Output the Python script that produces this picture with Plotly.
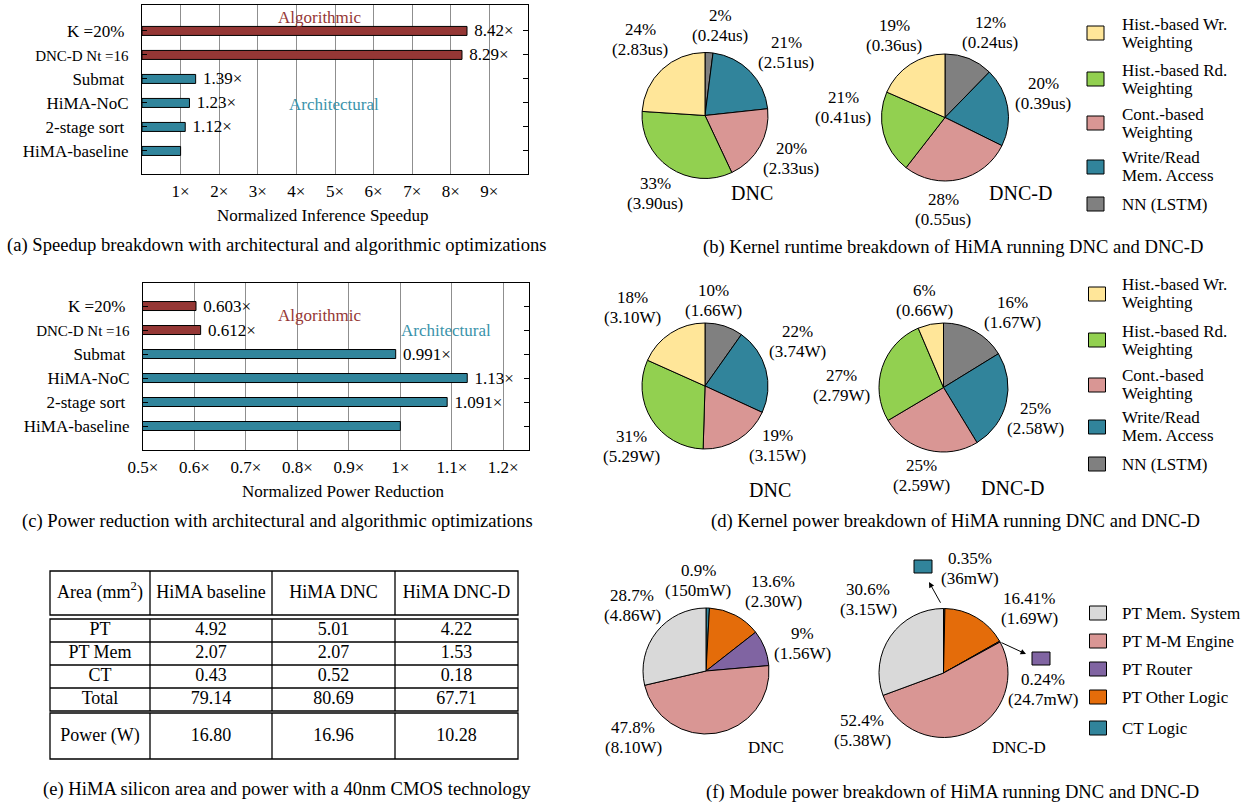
import plotly.graph_objects as go

W, H = 1247, 805
FONT = "Liberation Serif"

# ---------------------------------------------------------------- data
# (a)/(c) optimisation steps, bottom to top
opt_names = ["HiMA-baseline", "2-stage sort", "HiMA-NoC", "Submat", "DNC-D Nt =16", "K =20%"]
opt_kind = ["arch", "arch", "arch", "arch", "alg", "alg"]
speedup = [1.0, 1.12, 1.23, 1.39, 8.29, 8.42]
power_reduction = [1.0, 1.091, 1.13, 0.991, 0.612, 0.603]
speedup_ticks = [1, 2, 3, 4, 5, 6, 7, 8, 9]
power_ticks = [0.5, 0.6, 0.7, 0.8, 0.9, 1.0, 1.1, 1.2]

# (b)/(d) kernel breakdown
kernel_legend = [["Hist.-based Wr.", "Weighting"], ["Hist.-based Rd.", "Weighting"],
                 ["Cont.-based", "Weighting"], ["Write/Read", "Mem. Access"], ["NN (LSTM)"]]
runtime_dnc_us = [2.83, 3.90, 2.33, 2.51, 0.24]
runtime_dnc_pct = ["24%", "33%", "20%", "21%", "2%"]
runtime_dncd_us = [0.36, 0.41, 0.55, 0.39, 0.24]
runtime_dncd_pct = ["19%", "21%", "28%", "20%", "12%"]
kpower_dnc_w = [3.10, 5.29, 3.15, 3.74, 1.66]
kpower_dnc_pct = ["18%", "31%", "19%", "22%", "10%"]
kpower_dncd_w = [0.66, 2.79, 2.59, 2.58, 1.67]
kpower_dncd_pct = ["6%", "27%", "25%", "25%", "16%"]

# (f) module breakdown
module_legend = ["PT Mem. System", "PT M-M Engine", "PT Router", "PT Other Logic", "CT Logic"]
mpower_dnc_w = [4.86, 8.10, 1.56, 2.30, 0.150]
mpower_dnc_pct = ["28.7%", "47.8%", "9%", "13.6%", "0.9%"]
mpower_dncd_w = [3.15, 5.38, 0.0247, 1.69, 0.036]
mpower_dncd_pct = ["30.6%", "52.4%", "0.24%", "16.41%", "0.35%"]

# (e) area / power table
table_header = ["Area (mm<sup>2</sup>)", "HiMA baseline", "HiMA DNC", "HiMA DNC-D"]
area_rows = ["PT", "PT Mem", "CT", "Total"]
area_baseline = [4.92, 2.07, 0.43, 79.14]
area_dnc = [5.01, 2.07, 0.52, 80.69]
area_dncd = [4.22, 1.53, 0.18, 67.71]
power_row = "Power (W)"
power_w = [16.80, 16.96, 10.28]

# ---------------------------------------------------------------- styles
BAR_COLORS = {"arch": "#31859C", "alg": "#953735"}
KERNEL_COLORS = ["#FFE699", "#92D050", "#D99694", "#31849B", "#808080"]
MODULE_COLORS = ["#D9D9D9", "#D99694", "#8064A2", "#E46C0A", "#31849B"]
GRID = "#8f8f8f"
SMALL_TICK = {"DNC-D Nt =16"}
PAD_TICK = {"K =20%", "Submat", "2-stage sort"}
CAPTION_SIZE = 18.6
TABLE_SIZE = 18


def tick_label(name):
    if name in SMALL_TICK:
        return f"<span style='font-size:15px'>{name}</span>"
    if name in PAD_TICK:
        return name + "\u00a0"
    return name


def bar_text(values):
    return [" " if v == 1.0 else f"\u00a0{v}\u00d7" for v in values]


def xdom(x0, x1):
    return [x0 / W, x1 / W]


def ydom(y_top, y_bot):
    return [1 - y_bot / H, 1 - y_top / H]


fig = go.Figure()
annotations = []
shapes = []


def text(x, y, s, size=17, color="black", anchor="center"):
    annotations.append(dict(x=x, y=y, xref="x5", yref="y5", text=s, showarrow=False,
                            font=dict(family=FONT, size=size, color=color),
                            xanchor=anchor, yanchor="middle"))


def lines(x, y, rows, spacing, size=17, anchor="center"):
    for i, r in enumerate(rows):
        text(x, y + i * spacing, r, size=size, anchor=anchor)


# ---------------------------------------------------------------- (a) and (c) bars
for vals, xa, ya in [(speedup, "x", "y"), (power_reduction, "x2", "y2")]:
    fig.add_trace(go.Bar(
        x=vals, y=list(range(len(vals))), orientation="h", width=0.375,
        marker=dict(color=[BAR_COLORS[k] for k in opt_kind], line=dict(color="black", width=1)),
        text=bar_text(vals), textposition="outside", constraintext="none", cliponaxis=False,
        textfont=dict(family=FONT, size=17, color="black"),
        xaxis=xa, yaxis=ya, showlegend=False, hoverinfo="skip"))

axis_common = dict(showline=True, linecolor="black", linewidth=1, zeroline=False,
                   automargin=False, tickfont=dict(family=FONT, size=17, color="black"))
fig.update_layout(
    xaxis=dict(domain=xdom(142, 528), range=[0, 10], tickvals=speedup_ticks,
               ticktext=[f"{t}\u00d7" for t in speedup_ticks], showgrid=True,
               gridcolor=GRID, gridwidth=1, mirror=True, ticks="", anchor="y",
               ticklabelstandoff=2, **axis_common),
    yaxis=dict(domain=ydom(5, 174), range=[-0.96, 6.08], tickvals=list(range(6)),
               ticktext=[tick_label(n) for n in opt_names], showgrid=False, mirror="ticks",
               ticks="inside", ticklen=5, tickcolor="black", anchor="x",
               ticklabelstandoff=9, **axis_common),
    xaxis2=dict(domain=xdom(143, 529), range=[0.5, 1.25], tickvals=power_ticks,
                ticktext=[f"{t:g}\u00d7" for t in power_ticks], showgrid=True,
                gridcolor=GRID, gridwidth=1, mirror=True, ticks="", anchor="y2",
                ticklabelstandoff=2, **axis_common),
    yaxis2=dict(domain=ydom(283, 450), range=[-1.0, 5.96], tickvals=list(range(6)),
                ticktext=[tick_label(n) for n in opt_names], showgrid=False, mirror="ticks",
                ticks="inside", ticklen=5, tickcolor="black", anchor="x2",
                ticklabelstandoff=9, **axis_common),
    xaxis5=dict(domain=[0, 1], range=[0, W], visible=False, fixedrange=True, anchor="y5",
                automargin=False),
    yaxis5=dict(domain=[0, 1], range=[H, 0], visible=False, fixedrange=True, anchor="x5",
                automargin=False),
)

text(320, 17, "Algorithmic", color="#953735")
text(334, 104, "Architectural", color="#3A93AB")
text(322, 215, "Normalized Inference Speedup")
text(277, 245, "(a) Speedup breakdown with architectural and algorithmic optimizations",
     size=CAPTION_SIZE)

text(320, 315, "Algorithmic", color="#953735")
text(446, 330, "Architectural", color="#3A93AB")
text(343, 491, "Normalized Power Reduction")
text(277, 521, "(c) Power reduction with architectural and algorithmic optimizations",
     size=CAPTION_SIZE)

# ---------------------------------------------------------------- pies
def fmt_us(v):
    return f"({v:.2f}us)"


def fmt_w(v):
    return f"({v * 1000:g}mW)" if v < 0.2 else f"({v:.2f}W)"


pies = [
    # values, pct, formatter, colours, centre, radius, label positions (first line)
    (runtime_dnc_us, runtime_dnc_pct, fmt_us, KERNEL_COLORS, (705, 115.5), 63,
     [(640, 29), (655, 183), (791, 148), (786, 42), (720, 15)]),
    (runtime_dncd_us, runtime_dncd_pct, fmt_us, KERNEL_COLORS, (945, 117.5), 63.5,
     [(894, 25), (843, 97), (943, 199), (1043, 83), (990, 22)]),
    (kpower_dnc_w, kpower_dnc_pct, fmt_w, KERNEL_COLORS, (705, 386), 63,
     [(632, 297), (631, 436), (777, 435), (797, 331), (713, 290)]),
    (kpower_dncd_w, kpower_dncd_pct, fmt_w, KERNEL_COLORS, (943.5, 387.5), 64.5,
     [(924, 290), (841, 375), (921, 465), (1035, 408), (1012, 302)]),
    (mpower_dnc_w, mpower_dnc_pct, fmt_w, MODULE_COLORS, (706, 671), 63,
     [(632, 595), (633, 727), (802, 633), (773, 581), (698, 570)]),
    (mpower_dncd_w, mpower_dncd_pct, fmt_w, MODULE_COLORS, (943.5, 673), 64.5,
     [(868, 589), (862, 720), (1043, 679), (1029, 598), (970, 558)]),
]

for vals, pcts, fmt, colors, (cx, cy), r, pos in pies:
    # slices are listed in legend order and laid out counter-clockwise from 12 o'clock,
    # i.e. clockwise in reverse order
    fig.add_trace(go.Pie(
        values=vals[::-1], sort=False, direction="clockwise", rotation=0,
        marker=dict(colors=colors[::-1], line=dict(color="black", width=1)),
        textinfo="none", hoverinfo="skip", showlegend=False,
        domain=dict(x=xdom(cx - r, cx + r), y=ydom(cy - r, cy + r))))
    for v, p, (lx, ly) in zip(vals, pcts, pos):
        lines(lx, ly, [p, fmt(v)], 20)

# pie titles
text(752, 193, "DNC", size=20)
text(1020, 193, "DNC-D", size=20)
text(770, 490, "DNC", size=20)
text(1012, 488, "DNC-D", size=20)
text(766, 747, "DNC")
text(1019, 747, "DNC-D")

# call-outs for the two thin DNC-D module slices
shapes.append(dict(type="rect", xref="x5", yref="y5", x0=914, x1=932, y0=560, y1=573,
                   fillcolor=MODULE_COLORS[4], line=dict(color="black", width=1)))
shapes.append(dict(type="rect", xref="x5", yref="y5", x0=1032, x1=1050, y0=652, y1=665,
                   fillcolor=MODULE_COLORS[2], line=dict(color="black", width=1)))
for tip, tail in [((929, 582), (944, 609)), ((1026, 654), (998, 641))]:
    annotations.append(dict(x=tip[0], y=tip[1], ax=tail[0], ay=tail[1], xref="x5", yref="y5",
                            axref="x5", ayref="y5", text=" ", showarrow=True, arrowhead=2,
                            arrowsize=1.1, arrowwidth=1, arrowcolor="black"))

# legends
def legend(entries, colors, sq_x, sq_ys, text_ys, spacing):
    for entry, col, sy, ty in zip(entries, colors, sq_ys, text_ys):
        shapes.append(dict(type="rect", xref="x5", yref="y5", x0=sq_x - 8.5, x1=sq_x + 8.5,
                           y0=sy - 7, y1=sy + 7, fillcolor=col,
                           line=dict(color="black", width=1)))
        rows = entry if isinstance(entry, list) else [entry]
        lines(1120, ty, rows, spacing, anchor="left")


legend(kernel_legend, KERNEL_COLORS, 1095.5, [33, 79, 123, 167, 204],
       [24, 70, 114, 157, 204], 18)
legend(kernel_legend, KERNEL_COLORS, 1097, [294, 340, 385, 427, 464],
       [284, 331, 375, 417, 464], 18)
legend(module_legend, MODULE_COLORS, 1098, [613, 641, 669, 697, 728],
       [613, 641, 669, 697, 728], 18)

text(953, 247, "(b) Kernel runtime breakdown of HiMA running DNC and DNC-D", size=CAPTION_SIZE)
text(955, 521, "(d) Kernel power breakdown of HiMA running DNC and DNC-D", size=CAPTION_SIZE)
text(952, 792, "(f) Module power breakdown of HiMA running DNC and DNC-D", size=CAPTION_SIZE)

# ---------------------------------------------------------------- (e) table
col_edges = [50, 150, 272, 395, 518]
col_mid = [(a + b) / 2 for a, b in zip(col_edges[:-1], col_edges[1:])]
header_box = (571, 615)
body_edges = [619, 642, 665, 688, 711]
power_box = (713, 759)

cell_x, cell_y, cell_t = [], [], []
for c, h in enumerate(table_header):
    cell_x.append(col_mid[c]); cell_y.append(sum(header_box) / 2); cell_t.append(h)
for i, name in enumerate(area_rows):
    ymid = (body_edges[i] + body_edges[i + 1]) / 2
    row = [name] + [f"{col[i]:.2f}" for col in (area_baseline, area_dnc, area_dncd)]
    for c, t in enumerate(row):
        cell_x.append(col_mid[c]); cell_y.append(ymid); cell_t.append(t)
for c, t in enumerate([power_row] + [f"{v:.2f}" for v in power_w]):
    cell_x.append(col_mid[c]); cell_y.append(sum(power_box) / 2); cell_t.append(t)

fig.add_trace(go.Scatter(x=cell_x, y=cell_y, text=cell_t, mode="text",
                         textposition="middle center",
                         textfont=dict(family=FONT, size=TABLE_SIZE, color="black"),
                         xaxis="x5", yaxis="y5", showlegend=False, hoverinfo="skip"))

tline = dict(color="black", width=1.3)
for top, bot in [header_box, (body_edges[0], body_edges[-1]), power_box]:
    shapes.append(dict(type="rect", xref="x5", yref="y5", x0=col_edges[0], x1=col_edges[-1],
                       y0=top, y1=bot, line=tline))
    for xe in col_edges[1:-1]:
        shapes.append(dict(type="line", xref="x5", yref="y5", x0=xe, x1=xe, y0=top, y1=bot,
                           line=tline))
for ye in body_edges[1:-1]:
    shapes.append(dict(type="line", xref="x5", yref="y5", x0=col_edges[0], x1=col_edges[-1],
                       y0=ye, y1=ye, line=tline))

text(287, 789, "(e) HiMA silicon area and power with a 40nm CMOS technology",
     size=CAPTION_SIZE)

fig.update_layout(
    width=W, height=H, autosize=False,
    margin=dict(l=0, r=0, t=0, b=0, pad=0, autoexpand=False),
    paper_bgcolor="white", plot_bgcolor="rgba(0,0,0,0)",
    font=dict(family=FONT, size=17, color="black"),
    annotations=annotations, shapes=shapes, showlegend=False,
)

fig.write_html("out.html")
